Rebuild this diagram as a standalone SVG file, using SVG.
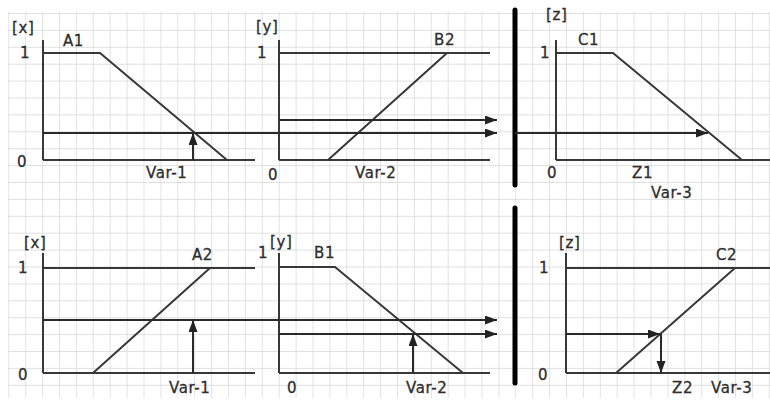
<svg xmlns="http://www.w3.org/2000/svg" width="770" height="401" viewBox="0 0 770 401">
<defs>
<pattern id="grid" x="8.3" y="13" width="16.9" height="16.9" patternUnits="userSpaceOnUse">
<path d="M0 0 H16.9 M0 0 V16.9" fill="none" stroke="#d6d6d6" stroke-width="1.4"/>
</pattern>
<marker id="ah" markerUnits="userSpaceOnUse" markerWidth="13" markerHeight="10" refX="12" refY="4.5" orient="auto">
<path d="M0 0 L12 4.5 L0 9 Z" fill="#222"/>
</marker>
</defs>
<style>
.ln{fill:none;stroke:#383838;stroke-width:2}
.ar{fill:none;stroke:#2a2a2a;stroke-width:2;marker-end:url(#ah)}
.bar{stroke:#000;stroke-width:5;stroke-linecap:round}
text{font-family:"DejaVu Sans",Verdana,sans-serif;font-size:15px;fill:#2e2e2e;letter-spacing:0.6px;stroke:#2e2e2e;stroke-width:0.3px}
.m{text-anchor:middle}
</style>
<rect x="0" y="0" width="770" height="401" fill="#fff"/>
<rect x="8" y="12" width="762" height="386" fill="url(#grid)"/>

<g id="panel-A1">
<path class="ln" d="M43 40 V160 M43 160 H255 M43 53 H100 L227 160"/>
<text x="12" y="33">[x]</text>
<text x="63" y="46">A1</text>
<text class="m" x="25" y="58">1</text>
<text class="m" x="22" y="167">0</text>
<text x="146" y="178">Var-1</text>
</g>

<g id="panel-B2">
<path class="ln" d="M279 40 V160 M279 160 H490 M279 53 H490 M328 160 L447 53"/>
<text x="256" y="32">[y]</text>
<text x="434" y="45">B2</text>
<text class="m" x="262" y="58">1</text>
<text class="m" x="273" y="180">0</text>
<text x="355" y="178">Var-2</text>
</g>

<g id="panel-C1">
<path class="ln" d="M556 40 V160 M556 160 H770 M556 53 H613 L742 160"/>
<text x="546" y="20">[z]</text>
<text x="578" y="45">C1</text>
<text class="m" x="545" y="58">1</text>
<text class="m" x="552" y="178">0</text>
<text x="632" y="178">Z1</text>
<text x="651" y="198">Var-3</text>
</g>

<g id="panel-A2">
<path class="ln" d="M43 253 V373 M43 373 H255 M43 268 H255 M93 373 L210 268"/>
<text x="24" y="248">[x]</text>
<text x="192" y="260">A2</text>
<text class="m" x="23" y="273">1</text>
<text class="m" x="23" y="380">0</text>
<text x="169" y="393">Var-1</text>
</g>

<g id="panel-B1">
<path class="ln" d="M279 253 V373 M279 373 H490 M279 267 H335 L463 373"/>
<text x="270" y="247">[y]</text>
<text class="m" x="263" y="258">1</text>
<text x="314" y="258">B1</text>
<text class="m" x="292" y="393">0</text>
<text x="406" y="393">Var-2</text>
</g>

<g id="panel-C2">
<path class="ln" d="M566 253 V373 M566 373 H770 M566 268 H770 M616 373 L735 268"/>
<text x="559" y="248">[z]</text>
<text x="716" y="260">C2</text>
<text class="m" x="544" y="273">1</text>
<text class="m" x="543" y="380">0</text>
<text x="672" y="393">Z2</text>
<text x="711" y="393">Var-3</text>
</g>

<g id="separators">
<line class="bar" x1="515" y1="10" x2="515" y2="185"/>
<line class="bar" x1="515" y1="208" x2="515" y2="383"/>
</g>

<g id="connectors">
<path class="ar" d="M193 160 V133"/>
<path class="ar" d="M43 133 H497"/>
<path class="ar" d="M279 120 H497"/>
<path class="ar" d="M515 133 H708"/>
<path class="ar" d="M193 373 V320"/>
<path class="ar" d="M43 320 H497"/>
<path class="ar" d="M413 373 V334"/>
<path class="ar" d="M279 334 H497"/>
<path class="ar" d="M566 334 H660"/>
<path class="ar" d="M661 334 V373"/>
</g>
</svg>
